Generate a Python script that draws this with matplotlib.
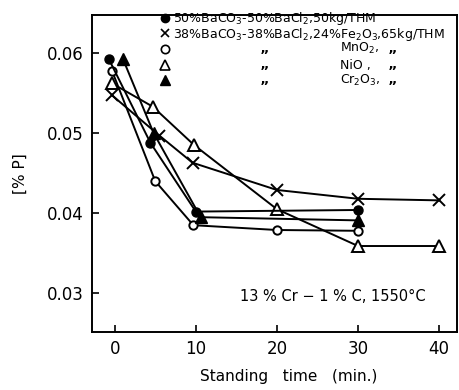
import numpy as np
import matplotlib.pyplot as plt

# filled circle: 50%BaCO3-50%BaCl2
t_fc = [-0.7, 4.4, 10.0, 30]
p_fc = [0.0592, 0.0488, 0.0402, 0.0404]
# cross: BaCO3-BaCl2-Fe2O3
t_x = [-0.3, 5.5, 9.6, 20, 30, 40]
p_x = [0.0547, 0.0497, 0.0463, 0.0429, 0.0418, 0.0416]
# open circle: MnO2
t_oc = [-0.3, 5.0, 9.7, 20, 30]
p_oc = [0.0577, 0.0440, 0.0385, 0.0379, 0.0378]
# open triangle: NiO
t_ot = [-0.3, 4.7, 9.8, 20, 30, 40]
p_ot = [0.0562, 0.0533, 0.0485, 0.0405, 0.0359, 0.0359]
# filled triangle: Cr2O3
t_ft = [1.0, 4.8, 10.6, 30]
p_ft = [0.0593, 0.0500, 0.0395, 0.0391]

fig = plt.figure(figsize=(4.59, 3.9), dpi=100)
ax = fig.add_axes([0.2004, 0.1487, 0.7952, 0.8128])

kw = dict(color='black', lw=1.4)
ax.plot(t_x, p_x, marker='x', ms=8, mew=1.4, **kw)
ax.plot(t_ot, p_ot, marker='^', ms=8, mfc='white', mew=1.4, **kw)
ax.plot(t_oc, p_oc, marker='o', ms=6, mfc='white', mew=1.4, **kw)
ax.plot(t_fc, p_fc, marker='o', ms=6.5, mfc='black', **kw)
ax.plot(t_ft, p_ft, marker='^', ms=8, mfc='black', **kw)

ax.set_xlim(-2.8, 42.2)
ax.set_ylim(0.02516, 0.06475)
ax.set_xticks([0, 10, 20, 30, 40])
ax.set_yticks([0.03, 0.04, 0.05, 0.06])
ax.set_yticklabels(['0.03', '0.04', '0.05', '0.06'])
ax.tick_params(direction='in', length=5, width=1.2, labelsize=12, pad=6)
for s in ax.spines.values():
    s.set_linewidth(1.4)

ax.set_ylabel('[% P]', fontsize=11, labelpad=14)
ax.set_xlabel('Standing   time   (min.)', fontsize=11)
ax.xaxis.set_label_coords(0.54, -0.118)

# legend block
rows_y = [0.99, 0.943, 0.893, 0.842, 0.795]
mk = [dict(marker='o', mfc='black', ms=6),
      dict(marker='x', ms=6, mew=1.2),
      dict(marker='o', mfc='white', ms=6, mew=1.2),
      dict(marker='^', mfc='white', ms=6.5, mew=1.2),
      dict(marker='^', mfc='black', ms=6.5)]
for y, m in zip(rows_y, mk):
    ax.plot([0.2], [y], transform=ax.transAxes, color='black', ls='none',
            clip_on=False, **m)
fs = 9
ax.text(0.222, rows_y[0], r'50%BaCO$_3$-50%BaCl$_2$,50kg/THM',
        transform=ax.transAxes, va='center', fontsize=fs)
ax.text(0.222, rows_y[1] - 0.004, r'38%BaCO$_3$-38%BaCl$_2$,24%Fe$_2$O$_3$,65kg/THM',
        transform=ax.transAxes, va='center', fontsize=fs)
chem = [r'MnO$_2$,', r'NiO ,', r'Cr$_2$O$_3$,']
for y, c in zip(rows_y[2:], chem):
    ax.text(0.46, y - 0.022, '\u201d', transform=ax.transAxes, va='center',
            fontsize=10, fontweight='bold')
    ax.text(0.68, y, c, transform=ax.transAxes, va='center', fontsize=fs)
    ax.text(0.81, y - 0.022, '\u201d', transform=ax.transAxes, va='center',
            fontsize=10, fontweight='bold')

ax.text(0.405, 0.113, '13 % Cr \u2212 1 % C, 1550\u00b0C', transform=ax.transAxes,
        va='center', ha='left', fontsize=10.5)

fig.savefig('out.png', dpi=100)
